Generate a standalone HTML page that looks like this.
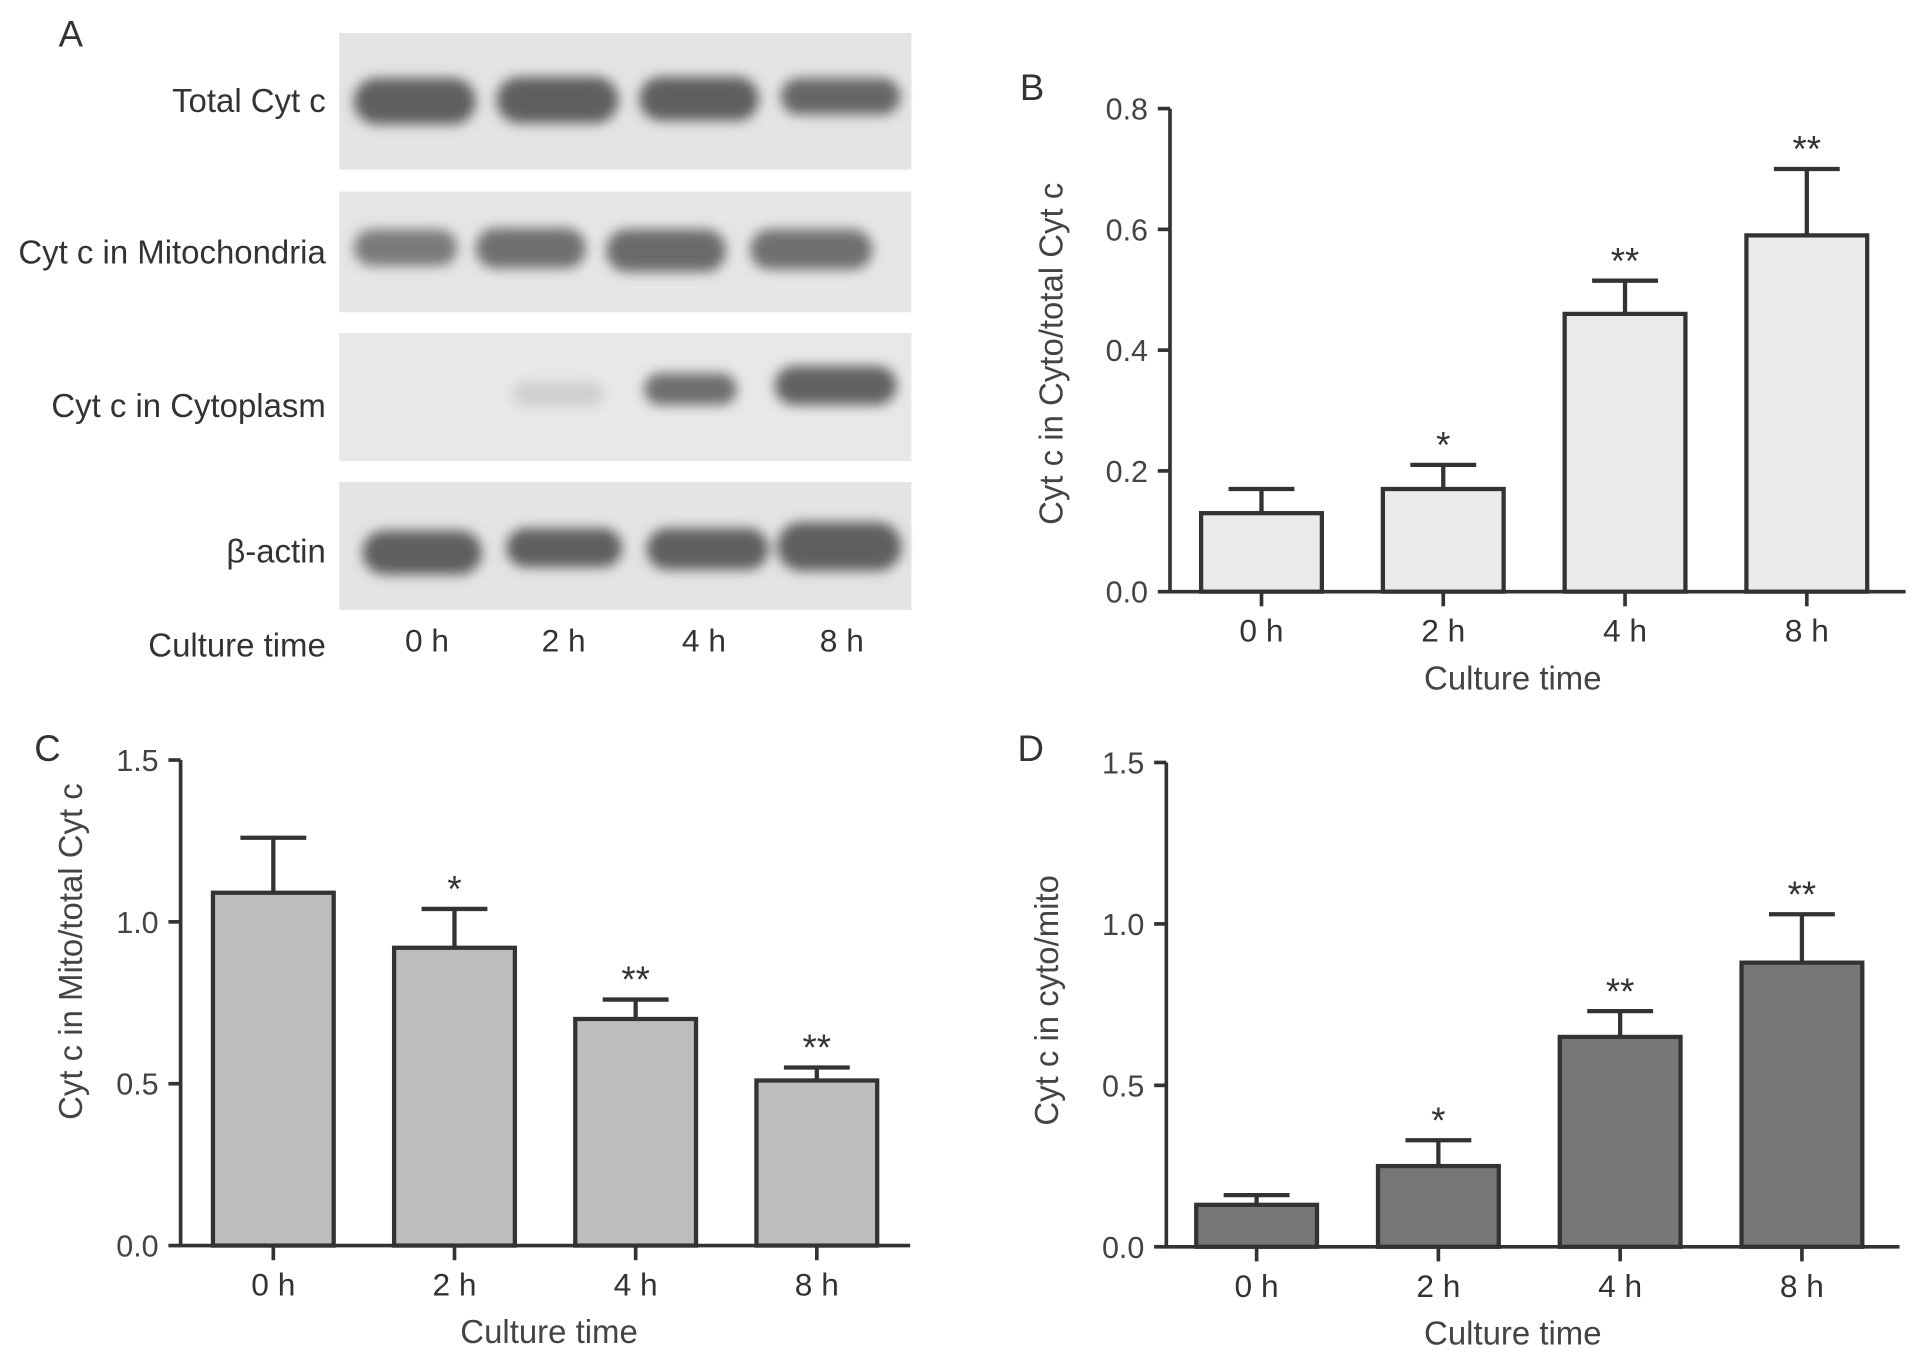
<!DOCTYPE html>
<html><head><meta charset="utf-8"><style>
html,body{margin:0;padding:0;background:#fff;}
svg{display:block;font-family:"Liberation Sans",Arial,sans-serif;}
</style></head><body>
<svg id="fig" width="1913" height="1360" viewBox="0 0 1568 1114.8" xmlns="http://www.w3.org/2000/svg">
<defs><filter id="blur" x="-20%" y="-50%" width="140%" height="200%"><feGaussianBlur stdDeviation="5"/></filter></defs>
<g>
<text x="48" y="38" font-size="30" fill="#333">A</text>
<rect x="278" y="27" width="469" height="112" fill="#e4e4e4"/>
<rect x="278" y="157" width="469" height="99" fill="#e6e6e6"/>
<rect x="278" y="273" width="469" height="105" fill="#e8e8e8"/>
<rect x="278" y="395" width="469" height="105" fill="#e4e4e4"/>
<g filter="url(#blur)" fill="#5f5f5f">
<rect x="290" y="64" width="100" height="38" rx="19"/>
<rect x="407" y="63" width="100" height="38" rx="19"/>
<rect x="524" y="63" width="98" height="36" rx="18"/>
<rect x="640" y="64" width="98" height="30" rx="15" fill="#666"/>
<rect x="290" y="188" width="85" height="30" rx="15" fill="#7a7a7a"/>
<rect x="390" y="187" width="90" height="33" rx="16" fill="#707070"/>
<rect x="497" y="188" width="98" height="35" rx="17" fill="#6a6a6a"/>
<rect x="615" y="188" width="100" height="33" rx="16" fill="#707070"/>
<rect x="420" y="313" width="75" height="20" rx="10" fill="#cfcfcf"/>
<rect x="528" y="306" width="76" height="26" rx="13" fill="#6e6e6e"/>
<rect x="635" y="300" width="100" height="32" rx="16" fill="#626262"/>
<rect x="297" y="435" width="98" height="36" rx="18"/>
<rect x="415" y="433" width="95" height="32" rx="16"/>
<rect x="530" y="433" width="100" height="34" rx="17"/>
<rect x="637" y="428" width="102" height="40" rx="20"/>
</g>
<g font-size="27" fill="#333" text-anchor="end">
<text x="267" y="92">Total Cyt c</text>
<text x="267" y="216">Cyt c in Mitochondria</text>
<text x="267" y="342">Cyt c in Cytoplasm</text>
<text x="267" y="461">β-actin</text>
<text x="267" y="538">Culture time</text>
</g>
<g font-size="26" fill="#333" text-anchor="middle">
<text x="350" y="534">0 h</text>
<text x="462" y="534">2 h</text>
<text x="577" y="534">4 h</text>
<text x="690" y="534">8 h</text>
</g>
</g>
</svg>
<script>
const categories = ["0 h","2 h","4 h","8 h"];
const valuesB = [0.13, 0.17, 0.46, 0.59];
const errTopB = [0.17, 0.21, 0.515, 0.70];
const starsB = ["", "*", "**", "**"];
const ticksB = [0.0, 0.2, 0.4, 0.6, 0.8];
const valuesC = [1.09, 0.92, 0.70, 0.51];
const errTopC = [1.26, 1.04, 0.76, 0.55];
const starsC = ["", "*", "**", "**"];
const ticksC = [0.0, 0.5, 1.0, 1.5];
const valuesD = [0.13, 0.25, 0.65, 0.88];
const errTopD = [0.16, 0.33, 0.73, 1.03];
const starsD = ["", "*", "**", "**"];
const ticksD = [0.0, 0.5, 1.0, 1.5];

const NS = "http://www.w3.org/2000/svg";
const svg = document.getElementById("fig");
function mk(tag, attrs, parent, text){
  const e = document.createElementNS(NS, tag);
  for (const k in attrs) e.setAttribute(k, attrs[k]);
  if (text !== undefined) e.textContent = text;
  parent.appendChild(e);
  return e;
}
function panel(cfg){
  const g = mk("g", {}, svg);
  
  
  const yS = v => cfg.y0 - (v / cfg.ymax) * (cfg.y0 - cfg.ytop);
  const xS = i => cfg.xFirst + i * cfg.step;
  const lbl = mk("text", {x: cfg.lx, y: cfg.ly, "font-size": 30, fill: "#333"}, g, cfg.letter);
  
  
  cfg.vals.forEach((v, i) => {
    const cx = xS(i), bw = 99;
    const eb = mk("path", {d: `M${cx} ${yS(v)} V${yS(cfg.err[i])} M${cx-27} ${yS(cfg.err[i])} H${cx+27}`, stroke: "#333", "stroke-width": 3.5, fill: "none"}, g);
    
    
    const r = mk("rect", {x: cx - bw/2, y: yS(v), width: bw, height: cfg.y0 - yS(v), fill: cfg.fill, stroke: "#333", "stroke-width": 3.5}, g);
    
    
    if (cfg.stars[i]) {
      const s = mk("text", {x: cx, y: yS(cfg.err[i]) - 6, "font-size": 30, fill: "#333", "text-anchor": "middle"}, g, cfg.stars[i]);
      
      
    }
    const tk = mk("line", {x1: cx, x2: cx, y1: cfg.y0, y2: cfg.y0 + 12, stroke: "#333", "stroke-width": 3}, g);
    
    
    const xl = mk("text", {x: cx, y: cfg.y0 + 41, "font-size": 26, fill: "#333", "text-anchor": "middle"}, g, categories[i]);
    
    
  });
  const ax = mk("path", {d: `M${cfg.ax} ${cfg.ytop} V${cfg.y0} H${cfg.xend}`, stroke: "#333", "stroke-width": 3, fill: "none"}, g);
  
  
  cfg.ticks.forEach(t => {
    const y = yS(t);
    const tl = mk("line", {x1: cfg.ax - 10, x2: cfg.ax, y1: y, y2: y, stroke: "#333", "stroke-width": 3}, g);
    
    
    const tt = mk("text", {x: cfg.ax - 18, y: y + 9, "font-size": 25, fill: "#444", "text-anchor": "end"}, g, t.toFixed(1));
    
    
  });
  const xt = mk("text", {x: cfg.xtx, y: cfg.y0 + 80, "font-size": 27, fill: "#444", "text-anchor": "middle"}, g, "Culture time");
  
  
  const yt = mk("text", {x: 0, y: 0, "font-size": 27, fill: "#444", "text-anchor": "middle", transform: `translate(${cfg.ytx},${cfg.yty}) rotate(-90)`}, g, cfg.ytitle);
  
  
}
panel({name:"panel-b", letter:"B", lx:836, ly:82, ax:959, ytop:89, y0:485, ymax:0.8, xend:1562, xFirst:1034, step:149, vals:valuesB, err:errTopB, stars:starsB, ticks:ticksB, fill:"#ebebeb", xtx:1240, ytx:871, yty:290, ytitle:"Cyt c in Cyto/total Cyt c"});
panel({name:"panel-c", letter:"C", lx:28, ly:624, ax:148, ytop:623, y0:1021, ymax:1.5, xend:746, xFirst:224, step:148.5, vals:valuesC, err:errTopC, stars:starsC, ticks:ticksC, fill:"#bdbdbd", xtx:450, ytx:67, yty:780, ytitle:"Cyt c in Mito/total Cyt c"});
panel({name:"panel-d", letter:"D", lx:834, ly:624, ax:956, ytop:625, y0:1022, ymax:1.5, xend:1557, xFirst:1030, step:149, vals:valuesD, err:errTopD, stars:starsD, ticks:ticksD, fill:"#777777", xtx:1240, ytx:867, yty:820, ytitle:"Cyt c in cyto/mito"});
</script>
</body></html>
